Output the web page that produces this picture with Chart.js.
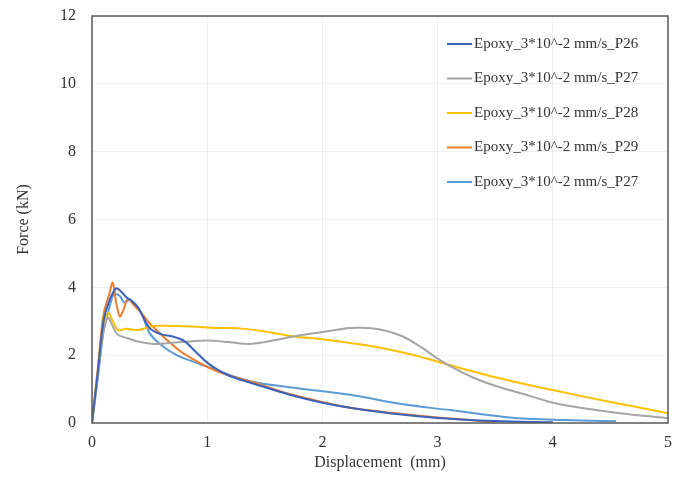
<!DOCTYPE html>
<html>
<head>
<meta charset="utf-8">
<script src="https://cdn.jsdelivr.net/npm/chart.js@4"></script>
<style>
  body { margin: 0; background: #fff; }
  #wrap { width: 683px; height: 496px; }
</style>
</head>
<body>
<div id="wrap"><canvas id="chart" width="683" height="496"></canvas></div>
<script>
// curve data, [displacement mm, force kN]
const p26 = [[0,0],[0.05,1.5],[0.1,3.0],[0.15,3.6],[0.21,3.97],[0.26,3.85],[0.3,3.7],[0.34,3.62],[0.4,3.4],[0.5,2.8],[0.6,2.62],[0.7,2.55],[0.8,2.42],[0.9,2.1],[1.0,1.78],[1.1,1.55],[1.2,1.38],[1.46,1.1],[1.7,0.85],[2.0,0.6],[2.24,0.45],[2.6,0.28],[3.0,0.15],[3.5,0.06],[4.0,0.02]];
const p27 = [[0,0],[0.05,1.4],[0.1,2.7],[0.14,3.1],[0.18,2.85],[0.225,2.6],[0.31,2.5],[0.4,2.4],[0.54,2.33],[0.75,2.38],[1.0,2.43],[1.2,2.38],[1.37,2.33],[1.55,2.42],[1.75,2.55],[2.0,2.68],[2.24,2.8],[2.4,2.8],[2.55,2.72],[2.7,2.55],[2.85,2.25],[3.0,1.9],[3.15,1.6],[3.3,1.35],[3.5,1.1],[3.8,0.8],[4.0,0.6],[4.3,0.42],[4.6,0.28],[5.0,0.14]];
const p28 = [[0,0],[0.05,1.5],[0.1,2.8],[0.14,3.25],[0.18,3.0],[0.225,2.74],[0.3,2.78],[0.4,2.74],[0.54,2.86],[0.8,2.85],[1.1,2.8],[1.28,2.79],[1.5,2.7],[1.75,2.55],[2.0,2.47],[2.24,2.36],[2.5,2.22],[2.8,2.0],[3.05,1.76],[3.5,1.35],[4.0,0.97],[4.5,0.62],[5.0,0.29]];
const p29 = [[0,0],[0.05,1.6],[0.1,3.2],[0.15,3.8],[0.18,4.14],[0.21,3.55],[0.24,3.14],[0.27,3.3],[0.31,3.65],[0.37,3.45],[0.43,3.24],[0.5,2.94],[0.65,2.45],[0.79,2.06],[1.08,1.53],[1.4,1.2],[1.7,0.87],[2.0,0.62],[2.24,0.45],[2.6,0.3],[3.0,0.16],[3.5,0.03]];
const p27b = [[0,0],[0.05,1.3],[0.1,2.7],[0.15,3.4],[0.19,3.8],[0.24,3.75],[0.28,3.55],[0.33,3.62],[0.42,3.3],[0.5,2.65],[0.6,2.3],[0.735,2.0],[0.9,1.78],[1.08,1.56],[1.25,1.35],[1.46,1.17],[1.8,1.02],[2.24,0.83],[2.7,0.55],[3.11,0.38],[3.4,0.25],[3.69,0.14],[4.1,0.09],[4.55,0.05]];

const labels = ['Epoxy_3*10^-2 mm/s_P26', 'Epoxy_3*10^-2 mm/s_P27', 'Epoxy_3*10^-2 mm/s_P28', 'Epoxy_3*10^-2 mm/s_P29', 'Epoxy_3*10^-2 mm/s_P27'];
const series = [p26, p27, p28, p29, p27b];
const colors = ['#3b62b8', '#a5a5a5', '#ffc000', '#ed7d31', '#5b9bd5'];

const xTicks = [0, 1, 2, 3, 4, 5];
const yTicks = [0, 2, 4, 6, 8, 10, 12];

const serif = 'Liberation Serif, Times New Roman, serif';

// legend sits inside the plot, top right
const innerLegend = {
  id: 'innerLegend',
  afterDraw(c) {
    const ctx = c.ctx;
    ctx.save();
    ctx.font = '15px ' + serif;
    ctx.textBaseline = 'middle';
    c.data.datasets.forEach((ds, i) => {
      const y = 44 + i * 34.5;
      ctx.strokeStyle = ds.borderColor;
      ctx.lineWidth = 2;
      ctx.beginPath();
      ctx.moveTo(447, y);
      ctx.lineTo(472, y);
      ctx.stroke();
      ctx.fillStyle = '#333';
      ctx.fillText(ds.label, 474, y);
    });
    ctx.restore();
  }
};

const frame = {
  id: 'frame',
  afterDatasetsDraw(c) {
    const a = c.chartArea;
    const ctx = c.ctx;
    ctx.save();
    ctx.strokeStyle = '#5a5a5a';
    ctx.lineWidth = 1.5;
    ctx.strokeRect(a.left, a.top, a.right - a.left, a.bottom - a.top);
    ctx.restore();
  }
};

new Chart(document.getElementById('chart'), {
  type: 'scatter',
  data: {
    datasets: series.map((s, i) => ({
      label: labels[i],
      data: s.map(p => ({ x: p[0], y: p[1] })),
      showLine: true,
      borderColor: colors[i],
      backgroundColor: colors[i],
      borderWidth: 2,
      pointRadius: 0,
      tension: 0.3
    }))
  },
  options: {
    responsive: false,
    animation: false,
    layout: { padding: { top: 16, right: 15, left: 0, bottom: 0 } },
    plugins: { legend: { display: false }, tooltip: { enabled: false } },
    scales: {
      x: {
        type: 'linear', min: 0, max: 5,
        afterBuildTicks: s => { s.ticks = xTicks.map(v => ({ value: v })); },
        afterFit: s => { s.height = 73; s.paddingLeft = 0; s.paddingRight = 0; },
        grid: { color: 'rgba(0,0,0,0.06)', drawTicks: false },
        border: { display: false },
        ticks: { padding: 10, color: '#333', font: { family: serif, size: 16 } },
        title: { display: true, text: 'Displacement  (mm)', color: '#333', font: { family: serif, size: 16 }, padding: { top: 0, bottom: 24 } }
      },
      y: {
        type: 'linear', min: 0, max: 12,
        afterBuildTicks: s => { s.ticks = yTicks.map(v => ({ value: v })); },
        afterFit: s => { s.width = 92; s.paddingTop = 0; s.paddingBottom = 0; },
        grid: { color: 'rgba(0,0,0,0.06)', drawTicks: false },
        border: { display: false },
        ticks: { padding: 16, color: '#333', font: { family: serif, size: 16 } },
        title: { display: true, text: 'Force (kN)', color: '#333', font: { family: serif, size: 16 }, padding: { top: 14, bottom: 0 } }
      }
    }
  },
  plugins: [innerLegend, frame]
});
</script>
</body>
</html>
